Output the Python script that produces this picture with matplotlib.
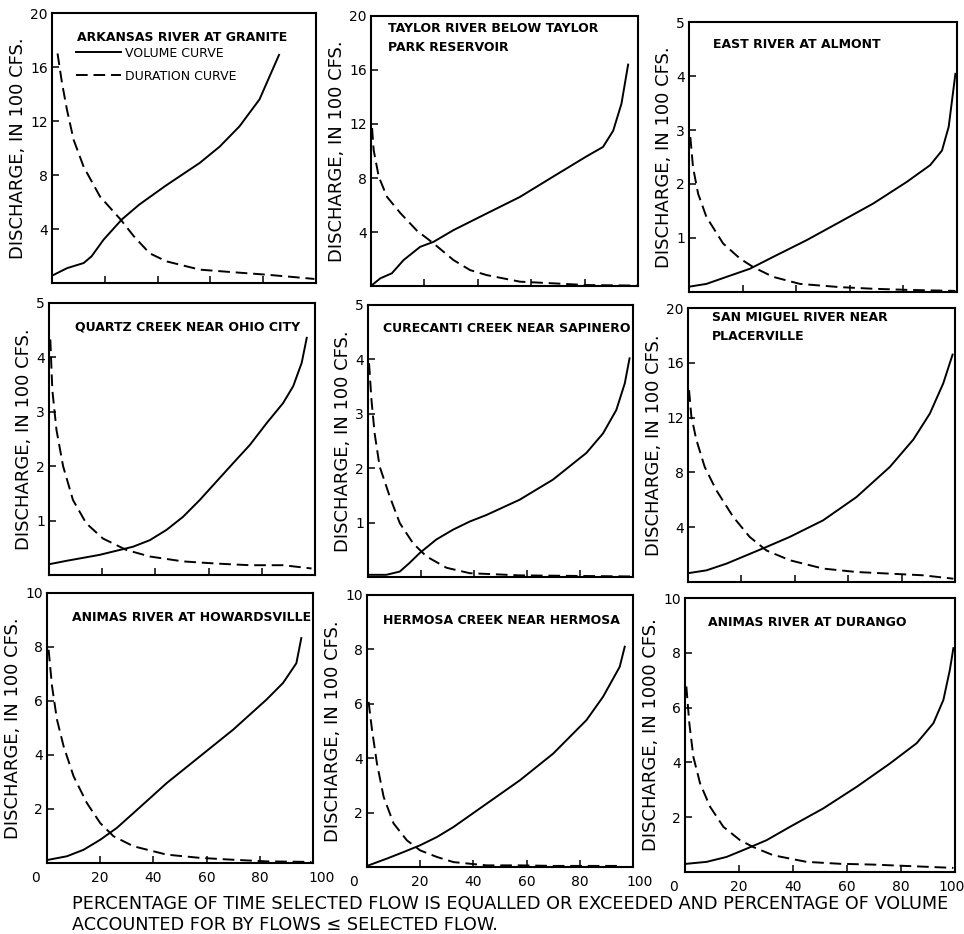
import numpy as np
import matplotlib
matplotlib.use("Agg")
import matplotlib.pyplot as plt
from matplotlib.transforms import ScaledTranslation

# station names and units
titles = [
    "ARKANSAS RIVER AT GRANITE",
    "TAYLOR RIVER BELOW TAYLOR\nPARK RESERVOIR",
    "EAST RIVER AT ALMONT",
    "QUARTZ CREEK NEAR OHIO CITY",
    "CURECANTI CREEK NEAR SAPINERO",
    "SAN MIGUEL RIVER NEAR\nPLACERVILLE",
    "ANIMAS RIVER AT HOWARDSVILLE",
    "HERMOSA CREEK NEAR HERMOSA",
    "ANIMAS RIVER AT DURANGO",
]
ylabels = ["DISCHARGE, IN 100 CFS."] * 8 + ["DISCHARGE, IN 1000 CFS."]
ymax = [20, 20, 5, 5, 5, 20, 10, 10, 10]
yticks = [[4, 8, 12, 16, 20], [4, 8, 12, 16, 20], [1, 2, 3, 4, 5],
          [1, 2, 3, 4, 5], [1, 2, 3, 4, 5], [4, 8, 12, 16, 20],
          [2, 4, 6, 8, 10], [2, 4, 6, 8, 10], [2, 4, 6, 8, 10]]
xticks = [0, 20, 40, 60, 80, 100]

# volume curves (solid)
vol_x = [
    [0.6, 5.7, 12, 15, 19.5, 26.4, 33, 43, 56, 63.5, 71, 78.6, 86],
    [0.4, 3.5, 7.8, 12.2, 18.4, 23.4, 30.9, 43.3, 55.8, 68.2, 80.7, 86.9, 90.7, 93.8, 96.3],
    [0.25, 6.5, 14, 22.7, 31.4, 43.9, 56.4, 68.8, 81.3, 90, 94.4, 96.9, 99.4],
    [0.25, 6.5, 19, 31.6, 37.9, 44.2, 50.4, 56.7, 63, 69.3, 75.5, 81.8, 88, 91.8, 95, 96.9],
    [0.6, 6.9, 12, 15.7, 19.5, 25.8, 32.1, 38.4, 44.7, 57.2, 69.8, 82.4, 88.7, 93.7, 96.9, 98.7],
    [0.6, 6.9, 14.4, 21.9, 29.4, 38.1, 50.6, 63.1, 75.6, 84.4, 90.6, 95.6, 99.1],
    [0.6, 7.5, 13.75, 20, 26.25, 32.5, 45, 57.5, 70, 82.5, 88.75, 93.75, 95.6],
    [0.6, 7.5, 13.75, 20, 26.25, 32.5, 45, 57.5, 70, 82.5, 88.75, 95, 96.9],
    [0.6, 8, 15.4, 22.8, 30.2, 38.9, 51.2, 63.6, 75.9, 85.8, 92, 95.7, 98.1, 99.4],
]
vol_y = [
    [0.6, 1.1, 1.48, 1.98, 3.2, 4.7, 5.8, 7.2, 8.9, 10.1, 11.6, 13.6, 16.9],
    [0.07, 0.57, 0.94, 1.92, 2.9, 3.27, 4.14, 5.37, 6.6, 8.1, 9.6, 10.3, 11.5, 13.5, 16.4],
    [0.10, 0.15, 0.28, 0.43, 0.65, 0.96, 1.3, 1.64, 2.04, 2.35, 2.62, 3.06, 4.04],
    [0.2, 0.26, 0.37, 0.52, 0.64, 0.83, 1.07, 1.38, 1.72, 2.06, 2.39, 2.79, 3.16, 3.47, 3.9, 4.36],
    [0.04, 0.04, 0.1, 0.26, 0.44, 0.69, 0.87, 1.02, 1.14, 1.42, 1.79, 2.28, 2.64, 3.07, 3.56, 4.02],
    [0.66, 0.85, 1.34, 1.95, 2.56, 3.29, 4.5, 6.2, 8.4, 10.4, 12.3, 14.5, 16.6],
    [0.12, 0.25, 0.49, 0.86, 1.3, 1.85, 2.96, 3.95, 4.94, 6.05, 6.67, 7.4, 8.33],
    [0.06, 0.31, 0.55, 0.8, 1.1, 1.47, 2.33, 3.19, 4.17, 5.4, 6.26, 7.36, 8.1],
    [0.3, 0.37, 0.55, 0.85, 1.16, 1.65, 2.32, 3.11, 3.96, 4.7, 5.43, 6.28, 7.38, 8.17],
]

# duration curves (dashed)
dur_x = [
    [2.1, 3.8, 5.7, 8.2, 12, 18.2, 26, 31, 37, 43.4, 56, 68.5, 81, 91, 99.4],
    [0.4, 1.0, 2.9, 6, 11, 17.2, 23.4, 30.9, 37.1, 43.3, 55.8, 68, 80.7, 100],
    [0.5, 1.5, 3.4, 6.5, 12.7, 19, 24, 31.4, 41.4, 56.4, 68.8, 81, 99.4],
    [0.5, 1.25, 2.8, 5.3, 9, 14, 20.3, 29.1, 37.9, 50.4, 63, 75.5, 88, 98.7],
    [0.4, 1.3, 2.5, 4.4, 8.2, 12, 17, 22, 29.6, 38.4, 57.2, 99.4],
    [0.4, 1.25, 3.1, 6.25, 10.6, 16.9, 23.1, 29.4, 38.1, 50.6, 63.1, 75.6, 88, 99.4],
    [0.6, 1.9, 3.75, 6.25, 10, 15, 20, 25, 32.5, 45, 57.5, 70, 82.5, 99.4],
    [0.6, 1.9, 3.75, 6.25, 10, 15, 20, 26.25, 32.5, 45, 57.5, 70, 95],
    [0.5, 1.6, 3.1, 5.6, 9.3, 14.2, 20.4, 25.3, 32.7, 45, 57.4, 69.8, 82.1, 99.4],
]
dur_y = [
    [17, 14.8, 12.8, 10.6, 8.6, 6.4, 4.7, 3.46, 2.2, 1.6, 0.99, 0.8, 0.62, 0.45, 0.3],
    [11.7, 10.06, 8.1, 6.6, 5.4, 4.1, 3.16, 1.92, 1.18, 0.81, 0.32, 0.2, 0.07, 0.03],
    [2.87, 2.31, 1.82, 1.39, 0.9, 0.62, 0.46, 0.28, 0.15, 0.09, 0.06, 0.04, 0.02],
    [4.33, 3.4, 2.67, 2.0, 1.38, 0.95, 0.67, 0.46, 0.34, 0.25, 0.21, 0.18, 0.18, 0.12],
    [3.93, 3.26, 2.64, 2.03, 1.48, 0.99, 0.62, 0.38, 0.17, 0.07, 0.03, 0.01],
    [14.0, 12.1, 10.4, 8.4, 6.7, 4.76, 3.29, 2.3, 1.59, 0.98, 0.73, 0.61, 0.49, 0.24],
    [7.9, 6.54, 5.31, 4.32, 3.21, 2.22, 1.48, 0.99, 0.62, 0.31, 0.19, 0.12, 0.06, 0.04],
    [6.07, 5.03, 3.8, 2.58, 1.6, 0.98, 0.61, 0.37, 0.18, 0.06, 0.06, 0.04, 0.04],
    [6.77, 5.43, 4.2, 3.23, 2.38, 1.65, 1.16, 0.91, 0.61, 0.37, 0.3, 0.27, 0.22, 0.15],
]

# panel boxes in pixels (left, top, right, bottom) and title spot in axes coords
W, H = 964, 934
boxes = [(52, 13, 316, 283), (371, 16, 638, 286), (689, 22, 957, 292),
         (49, 303, 315, 575), (368, 305, 633, 577), (688, 308, 955, 582),
         (47, 593, 313, 863), (367, 595, 633, 867), (685, 598, 955, 872)]
title_pos = [(0.095, 0.91), (0.064, 0.92), (0.09, 0.915),
             (0.098, 0.91), (0.057, 0.915), (0.09, 0.93),
             (0.094, 0.91), (0.06, 0.908), (0.085, 0.912)]
# shift of the "0" and "100" labels under the bottom row, in inches
end_shift = [(-0.11, 0.09), (-0.13, 0.07), (-0.12, -0.03)]

plt.rcParams['font.family'] = ['DejaVu Sans']
fig = plt.figure(figsize=(W / 100, H / 100), dpi=100)

for i in range(9):
    l, t, r, b = boxes[i]
    ax = fig.add_axes([l / W, 1 - b / H, (r - l) / W, (b - t) / H])
    ax.plot(vol_x[i], vol_y[i], color="black", lw=1.4, label="VOLUME CURVE")
    ax.plot(dur_x[i], dur_y[i], color="black", lw=1.4, dashes=(6, 3),
            label="DURATION CURVE")
    ax.set_xlim(0, 100)
    ax.set_ylim(0, ymax[i])
    for s in ax.spines.values():
        s.set_linewidth(1.5)
    ax.set_yticks(yticks[i])
    ax.set_xticks(xticks)
    ax.tick_params(direction="in", length=5, width=1.1, labelsize=10, pad=3)
    ax.set_ylabel(ylabels[i], fontsize=13, labelpad=2)
    if i < 6:
        ax.set_xticklabels([])
    else:
        ax.tick_params(axis="x", pad=6)
        labs = ax.get_xticklabels()
        dl, dr = end_shift[i - 6]
        labs[0].set_transform(labs[0].get_transform() +
                              ScaledTranslation(dl, 0, fig.dpi_scale_trans))
        labs[-1].set_transform(labs[-1].get_transform() +
                               ScaledTranslation(dr, 0, fig.dpi_scale_trans))
    tx, ty = title_pos[i]
    ax.text(tx, ty, titles[i], transform=ax.transAxes, fontsize=9,
            fontweight="semibold", va="center", ha="left", linespacing=1.6)
    if i == 0:
        ax.legend(loc="upper left", bbox_to_anchor=(0.09, 0.875), frameon=False,
                  fontsize=9, handlelength=3.6, handletextpad=0.3,
                  borderpad=0, borderaxespad=0, labelspacing=0.8)

fig.text(72 / W, 1 - 904 / H,
         "PERCENTAGE OF TIME SELECTED FLOW IS EQUALLED OR EXCEEDED AND PERCENTAGE OF VOLUME",
         fontsize=12.7, ha="left", va="center")
fig.text(72 / W, 1 - 925 / H, "ACCOUNTED FOR BY FLOWS \u2264 SELECTED FLOW.",
         fontsize=12.7, ha="left", va="center")

fig.savefig("out.png", dpi=100)
